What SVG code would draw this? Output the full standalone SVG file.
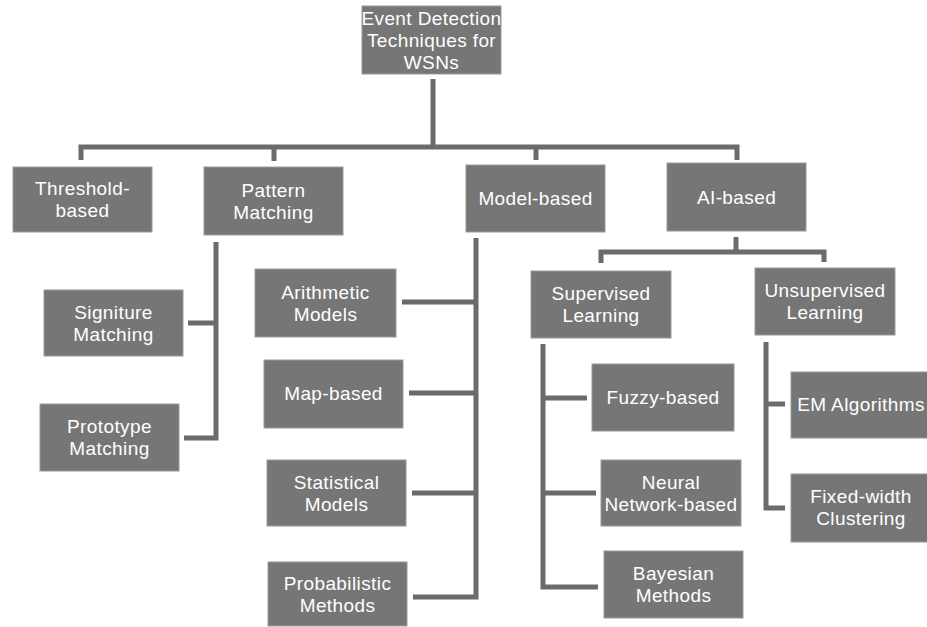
<svg xmlns="http://www.w3.org/2000/svg" width="927" height="627" viewBox="0 0 927 627">
<style>
.box{fill:#767676;stroke:#9a9a9a;stroke-width:1}
.t{fill:#ffffff;font-family:"Liberation Sans",Arial,sans-serif;font-size:19px;letter-spacing:0.4px;text-anchor:middle}
.c{fill:none;stroke:#6b6b6b;stroke-width:5;stroke-linejoin:miter;stroke-linecap:butt}
</style>
<rect width="927" height="627" fill="#ffffff"/>
<g id="connectors">
<path class="c" d="M433 79V147"/>
<path class="c" d="M81 160V147H737V160"/>
<path class="c" d="M274 147V161"/>
<path class="c" d="M536 147V160"/>
<path class="c" d="M216 242V438H184"/>
<path class="c" d="M188 323H216"/>
<path class="c" d="M476 238V597H413"/>
<path class="c" d="M402 302H476"/>
<path class="c" d="M409 393H476"/>
<path class="c" d="M412 493H476"/>
<path class="c" d="M736 237V252"/>
<path class="c" d="M601 263V252H824V262"/>
<path class="c" d="M543 344V587H598"/>
<path class="c" d="M543 398H587"/>
<path class="c" d="M543 493H596"/>
<path class="c" d="M766 342V508H785"/>
<path class="c" d="M766 404H785"/>
</g>
<g id="root"><rect class="box" x="362" y="6" width="139" height="68"/><text class="t" x="431.5" y="25">Event Detection</text><text class="t" x="431.5" y="47">Techniques for</text><text class="t" x="431.5" y="69">WSNs</text></g>
<g id="threshold"><rect class="box" x="13" y="167" width="139" height="65"/><text class="t" x="82.5" y="195">Threshold-</text><text class="t" x="82.5" y="217">based</text></g>
<g id="pattern"><rect class="box" x="204" y="167" width="139" height="68"/><text class="t" x="273.5" y="197">Pattern</text><text class="t" x="273.5" y="219">Matching</text></g>
<g id="model"><rect class="box" x="466" y="165" width="139" height="67"/><text class="t" x="535.5" y="205">Model-based</text></g>
<g id="ai"><rect class="box" x="667" y="163" width="139" height="68"/><text class="t" x="736.5" y="204">AI-based</text></g>
<g id="signiture"><rect class="box" x="44" y="290" width="139" height="66"/><text class="t" x="113.5" y="319">Signiture</text><text class="t" x="113.5" y="341">Matching</text></g>
<g id="prototype"><rect class="box" x="40" y="404" width="139" height="67"/><text class="t" x="109.5" y="433">Prototype</text><text class="t" x="109.5" y="455">Matching</text></g>
<g id="arithmetic"><rect class="box" x="255" y="269" width="141" height="68"/><text class="t" x="325.5" y="299">Arithmetic</text><text class="t" x="325.5" y="321">Models</text></g>
<g id="map"><rect class="box" x="264" y="360" width="139" height="68"/><text class="t" x="333.5" y="400">Map-based</text></g>
<g id="statistical"><rect class="box" x="267" y="460" width="139" height="66"/><text class="t" x="336.5" y="489">Statistical</text><text class="t" x="336.5" y="511">Models</text></g>
<g id="probabilistic"><rect class="box" x="268" y="562" width="139" height="64"/><text class="t" x="337.5" y="590">Probabilistic</text><text class="t" x="337.5" y="612">Methods</text></g>
<g id="supervised"><rect class="box" x="531" y="271" width="140" height="67"/><text class="t" x="601" y="300">Supervised</text><text class="t" x="601" y="322">Learning</text></g>
<g id="unsupervised"><rect class="box" x="755" y="268" width="140" height="67"/><text class="t" x="825" y="297">Unsupervised</text><text class="t" x="825" y="319">Learning</text></g>
<g id="fuzzy"><rect class="box" x="592" y="364" width="142" height="67"/><text class="t" x="663" y="404">Fuzzy-based</text></g>
<g id="neural"><rect class="box" x="601" y="460" width="140" height="66"/><text class="t" x="671" y="489">Neural</text><text class="t" x="671" y="511">Network-based</text></g>
<g id="bayesian"><rect class="box" x="604" y="551" width="139" height="67"/><text class="t" x="673.5" y="580">Bayesian</text><text class="t" x="673.5" y="602">Methods</text></g>
<g id="em"><rect class="box" x="791" y="372" width="140" height="66"/><text class="t" x="861" y="411">EM Algorithms</text></g>
<g id="fixed"><rect class="box" x="791" y="474" width="140" height="68"/><text class="t" x="861" y="503">Fixed-width</text><text class="t" x="861" y="525">Clustering</text></g>
</svg>
